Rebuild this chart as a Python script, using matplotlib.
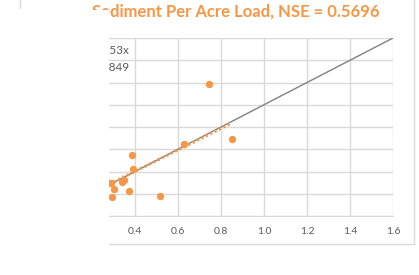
import matplotlib
matplotlib.use("Agg")
import matplotlib.pyplot as plt
from matplotlib.patches import Rectangle
from matplotlib.lines import Line2D

# observed vs simulated sediment load (per acre)
obs = [0.275, 0.287, 0.294, 0.304, 0.338, 0.349, 0.371, 0.386, 0.392, 0.516, 0.629, 0.746, 0.850]
sim = [0.300, 0.296, 0.174, 0.240, 0.308, 0.324, 0.228, 0.548, 0.420, 0.183, 0.644, 1.187, 0.689]

one_to_one = [0.0, 1.6]
trend_x = [0.2, 0.85]
trend_slope = 0.9653
trend_icpt = 0.015

x_ticks = [0.4, 0.6, 0.8, 1.0, 1.2, 1.4, 1.6]
y_ticks = [0.0, 0.2, 0.4, 0.6, 0.8, 1.0, 1.2, 1.4, 1.6]

title = "Sediment Per Acre Load, NSE = 0.5696"
eq_text = "y = 0.9653x"
r2_text = "R\u00b2 = 0.5849"

orange = "#F79646"
grid_c = "#D9D9D9"
txt_c = "#595959"

W, H = 419, 275
fig = plt.figure(figsize=(W / 100, H / 100), dpi=100)
ax = fig.add_axes([109 / W, (H - 216) / H, (393 - 109) / W, 178 / H])

ax.set_xlim(0.279, 1.6)
ax.set_ylim(0, 1.6)
ax.set_xticks(x_ticks)
ax.set_xticklabels([f"{t:.1f}" for t in x_ticks])
ax.set_yticks(y_ticks)
ax.set_yticklabels([])
ax.grid(True, color=grid_c, lw=1)
ax.set_axisbelow(True)
ax.tick_params(length=0, labelsize=7.5, labelcolor=txt_c, pad=8)
for s in ["top", "right", "left"]:
    ax.spines[s].set_visible(False)
ax.spines["bottom"].set_color(grid_c)
for lab in ax.get_xticklabels():
    lab.set_family("Lato")

ax.plot(one_to_one, one_to_one, color="#808080", lw=1, zorder=2)
ty = [trend_slope * v + trend_icpt for v in trend_x]
ax.plot(trend_x, ty, color=orange, lw=2.2, ls=(0, (0.7, 0.9)), zorder=3)
ax.scatter(obs, sim, s=28, color=orange, zorder=4, linewidths=0)

ax.text(0.371, 1.492, eq_text, ha="right", va="center", fontsize=8.5,
        color=txt_c, family="Lato", clip_on=True)
ax.text(0.371, 1.339, r2_text, ha="right", va="center", fontsize=8.5,
        color=txt_c, family="Lato", clip_on=True)

# title: place it so that the part after "Se" starts at the plot's left edge
tprops = dict(fontsize=12, fontweight="bold", color=orange, family="Lato")
r = fig.canvas.get_renderer()
probe = fig.text(0, 0, title[:2], **tprops)
se_w = probe.get_window_extent(r).width
probe.remove()
fig.text((109.5 - se_w) / W, 1 - 12 / H, title, ha="left", va="center", **tprops)

# cover for the clipped left part
fig.add_artist(Rectangle((0, 0), 108.5 / W, 1 - 10 / H, transform=fig.transFigure,
                         facecolor="white", edgecolor="none", zorder=5))

# chart frame bits
fig.add_artist(Line2D([20 / W, 20 / W], [1 - 8 / H, 1], color=grid_c, lw=1))
fig.add_artist(Line2D([414 / W, 414 / W], [1 - 244 / H, 1], color=grid_c, lw=1))
fig.add_artist(Line2D([109 / W, 414 / W], [1 - 244 / H, 1 - 244 / H], color=grid_c, lw=1))

fig.savefig("out.png", dpi=100)
